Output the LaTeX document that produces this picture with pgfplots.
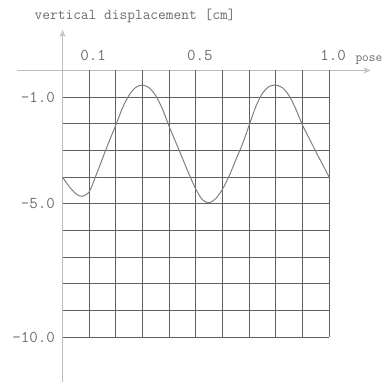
\documentclass[border=0pt]{standalone}
\usepackage{fontspec}
\usepackage{pgfplots}
\pgfplotsset{compat=1.18}
\usetikzlibrary{arrows.meta}

\definecolor{axisgray}{gray}{0.74}
\definecolor{gridgray}{gray}{0.38}
\definecolor{curvegray}{gray}{0.5}
\definecolor{textgray}{gray}{0.42}

\begin{document}
\begin{tikzpicture}
\begin{axis}[
  x=266.7pt, y=26.67pt,
  xmin=-0.17, xmax=1.155,
  ymin=-11.68, ymax=1.52,
  axis lines=middle,
  axis line style={draw=axisgray, line width=1.8pt, -{Stealth[open, length=7pt, width=6pt, line width=0.8pt]}},
  xtick={0.1,0.5,1.0},
  xticklabels={0.1,0.5,1.0},
  ytick={-1,-5,-10},
  yticklabels={-1.0,-5.0,-10.0},
  major tick length=0pt,
  x tick label style={anchor=south, yshift=6pt, xshift=4pt},
  y tick label style={anchor=east, xshift=-4pt},
  ticklabel style={font=\ttfamily\fontsize{16.5}{16.5}\selectfont, text=textgray},
  /pgf/number format/assume math mode=true,
  clip=false,
]
  % vertical grid lines, x = 0.1 ... 1.0, from 0 down to -10
  \addplot[ycomb, draw=gridgray, line width=0.9pt, mark=none] coordinates {
    (0.1,-10) (0.2,-10) (0.3,-10) (0.4,-10) (0.5,-10)
    (0.6,-10) (0.7,-10) (0.8,-10) (0.9,-10) (1.0,-10)
  };
  % horizontal grid lines, y = -1 ... -10, from 0 to 1.0
  \addplot[xcomb, draw=gridgray, line width=0.9pt, mark=none] coordinates {
    (1,-1) (1,-2) (1,-3) (1,-4) (1,-5)
    (1,-6) (1,-7) (1,-8) (1,-9) (1,-10)
  };
  % displacement over one pose cycle
  \addplot[smooth, draw=curvegray, line width=1pt, mark=none] coordinates {
    (0.000,-4.00) (0.025,-4.35) (0.050,-4.62) (0.0725,-4.72) (0.100,-4.55)
    (0.125,-3.95) (0.150,-3.30) (0.175,-2.65) (0.200,-2.05) (0.225,-1.40)
    (0.250,-0.92) (0.275,-0.63) (0.300,-0.55) (0.325,-0.65) (0.350,-0.95)
    (0.375,-1.45) (0.400,-2.10) (0.425,-2.70) (0.450,-3.30) (0.475,-3.90)
    (0.500,-4.45) (0.525,-4.85) (0.550,-4.96) (0.575,-4.80) (0.600,-4.45)
    (0.625,-3.95) (0.650,-3.35) (0.675,-2.75) (0.700,-2.05) (0.725,-1.35)
    (0.750,-0.85) (0.775,-0.60) (0.800,-0.55) (0.825,-0.65) (0.850,-0.95)
    (0.875,-1.45) (0.900,-2.05) (0.925,-2.55) (0.950,-3.05) (0.975,-3.52)
    (1.000,-4.00)
  };
  \node[font=\ttfamily\fontsize{15}{15}\selectfont, text=textgray] at (axis cs:0.272,2.06) {vertical displacement [cm]};
  \node[font=\ttfamily\fontsize{13}{13}\selectfont, text=textgray] at (axis cs:1.149,0.40) {pose};
  \coordinate (bl) at (axis cs:-0.2344,-11.83);
  \coordinate (tr) at (axis cs:1.213,2.643);
\end{axis}
\pgfresetboundingbox
\path (bl) rectangle (tr);
\end{tikzpicture}
\end{document}
